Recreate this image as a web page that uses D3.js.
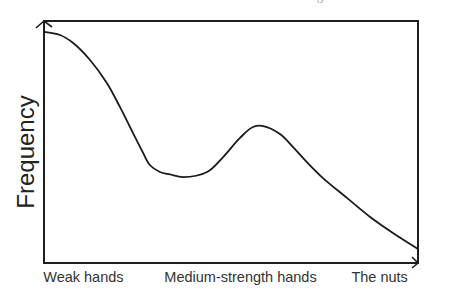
<!DOCTYPE html>
<html>
<head>
<meta charset="utf-8">
<script src="https://cdn.jsdelivr.net/npm/d3@7"></script>
<style>
  body { margin: 0; background: #fff; }
  svg { display: block; }
</style>
</head>
<body>
<div id="chart"></div>
<script>
// hand strength (0 = weakest, 1 = the nuts) and relative frequency
var strength = [0, 0.043, 0.078, 0.123, 0.168, 0.203, 0.238, 0.265, 0.283, 0.310, 0.337, 0.372, 0.436,
                0.479, 0.524, 0.559, 0.586, 0.631, 0.666, 0.703, 0.746, 0.810, 0.872, 0.933, 1.0]
var frequency = [0.955, 0.942, 0.909, 0.839, 0.744, 0.645, 0.537, 0.455, 0.405, 0.376, 0.366, 0.355, 0.376,
                 0.438, 0.517, 0.562, 0.566, 0.533, 0.479, 0.417, 0.351, 0.269, 0.190, 0.124, 0.058]

var tickLabels = ["Weak hands", "Medium-strength hands", "The nuts"]
var tickValues = [0.104, 0.524, 0.896]
var yTitle = "Frequency"
var caption = "Figure 1.1"

var width = 453, height = 298
var margin = {top: 21, right: 35, bottom: 35, left: 44}

var svg = d3.select("#chart")
  .append("svg")
    .attr("width", width)
    .attr("height", height)

var x = d3.scaleLinear()
    .domain([0, 1])
    .range([margin.left, width - margin.right])

var y = d3.scaleLinear()
    .domain([0, 1])
    .range([height - margin.bottom, margin.top])

// faint caption, cut off by the top edge as in the scan
svg.append("text")
    .attr("x", 306)
    .attr("y", 0)
    .attr("font-family", "Liberation Serif, serif")
    .attr("font-size", 13)
    .attr("fill", "#aaa")
    .text(caption)

// frame
var x0 = x(0), x1 = x(1), y0 = y(0), y1 = y(1)
svg.append("rect")
    .attr("x", x0)
    .attr("y", y1)
    .attr("width", x1 - x0)
    .attr("height", y0 - y1)
    .attr("fill", "none")
    .attr("stroke", "#1e1e1e")
    .attr("stroke-width", 2)

// arrow heads on the axes
svg.append("path")
    .attr("d", "M" + (x0 - 8) + "," + (y1 + 7) + "L" + x0 + "," + y1 + "L" + (x0 + 8) + "," + (y1 + 6))
    .attr("fill", "none")
    .attr("stroke", "#1e1e1e")
    .attr("stroke-width", 1.6)

svg.append("path")
    .attr("d", "M" + (x1 - 6) + "," + (y0 - 6) + "L" + x1 + "," + y0 + "L" + (x1 - 6) + "," + (y0 + 5))
    .attr("fill", "none")
    .attr("stroke", "#1e1e1e")
    .attr("stroke-width", 1.6)

// x labels
var xAxis = svg.append("g")
    .attr("transform", "translate(0," + y0 + ")")
    .call(d3.axisBottom(x)
      .tickValues(tickValues)
      .tickFormat((d, i) => tickLabels[i])
      .tickSize(0)
      .tickPadding(9))

xAxis.select(".domain").remove()
xAxis.selectAll("text")
    .attr("font-family", "Liberation Sans, Arial, sans-serif")
    .attr("font-size", 14.5)
    .attr("fill", "#333")

// y title
svg.append("text")
    .attr("transform", "translate(34," + ((y0 + y1) / 2 + 10) + ")rotate(-90)")
    .attr("text-anchor", "middle")
    .attr("font-family", "Liberation Sans, Arial, sans-serif")
    .attr("font-size", 24)
    .attr("fill", "#222")
    .text(yTitle)

// curve
var line = d3.line()
    .x((d, i) => x(strength[i]))
    .y((d, i) => y(frequency[i]))
    .curve(d3.curveCatmullRom.alpha(0.5))

svg.append("path")
    .datum(frequency)
    .attr("d", line)
    .attr("fill", "none")
    .attr("stroke", "#1a1a1a")
    .attr("stroke-width", 1.8)
</script>
</body>
</html>
